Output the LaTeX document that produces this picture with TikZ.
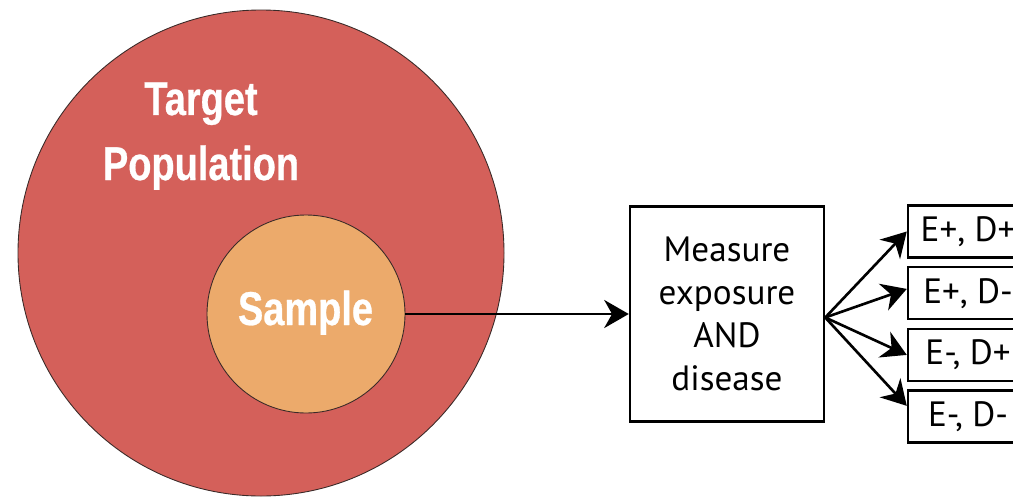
\documentclass[tikz,border=0pt]{standalone}
\usepackage{fontspec}
\setmainfont{PT Sans}
\newfontfamily\circlefont[FakeStretch=0.8, BoldFeatures={FakeBold=0.6}]{Liberation Sans}
\usetikzlibrary{positioning, arrows.meta}

\begin{document}
\begin{tikzpicture}[scale=1,
    popcircle/.style={circle, draw=borderColour, line width=0.5pt, inner sep=0pt},
    circlelabel/.style={text=white, font=\circlefont\bfseries\fontsize{27}{37}\selectfont, align=center},
    measurebox/.style={draw, line width=1.4pt, minimum width=3.88cm, minimum height=4.30cm, align=center, font=\fontsize{20}{24.5}\selectfont},
    outcomebox/.style={draw, line width=1.4pt, minimum width=2.4cm, minimum height=1.04cm, font=\fontsize{20}{23}\selectfont},
    flow/.style={-{Stealth[length=14pt, width=16pt, inset=4.5pt]}, line width=1.5pt}]
    % Define colors
    \definecolor{borderColour}{HTML}{3A2A28}
    \definecolor{targetColour}{HTML}{D4605A}
    \definecolor{sampleColour}{HTML}{ECAA6B}

    % Fix picture size
    \useasboundingbox (0,0) rectangle (20.26,10.06);

    % Draw the two circles
    \node[popcircle, fill=targetColour, minimum size=9.72cm] (target) at (5.22,5.00) {};
    \node[popcircle, fill=sampleColour, minimum size=3.96cm] (sample) at (6.12,3.78) {};

    % Label the circles
    \node[circlelabel, anchor=base] (targetlabel) at (4.02,6.46) {Target\\Population};
    \node[circlelabel, anchor=base] (samplelabel) at (6.11,3.56) {Sample};

    % Draw measurement box
    \node[measurebox] (measure) at (14.54,3.78) {Measure\\exposure\\AND\\disease};

    % Draw the four outcome boxes
    \node[outcomebox] (EpDp) at (19.36,5.43) {E+, D+};
    \node[outcomebox, below=0.145cm of EpDp] (EpDn) {E+, D-};
    \node[outcomebox, below=0.145cm of EpDn] (EnDp) {E-, D+};
    \node[outcomebox, below=0.145cm of EnDp] (EnDn) {E-, D-};

    % Draw arrows
    \draw[flow] (sample.east) -- (measure.west);
    \coordinate (fan) at ([yshift=-0.07cm]measure.east);
    \foreach \cell/\side in {EpDp/180, EpDn/176, EnDp/180, EnDn/170}
        \draw[flow] (fan) -- (\cell.\side);

\end{tikzpicture}
\end{document}
